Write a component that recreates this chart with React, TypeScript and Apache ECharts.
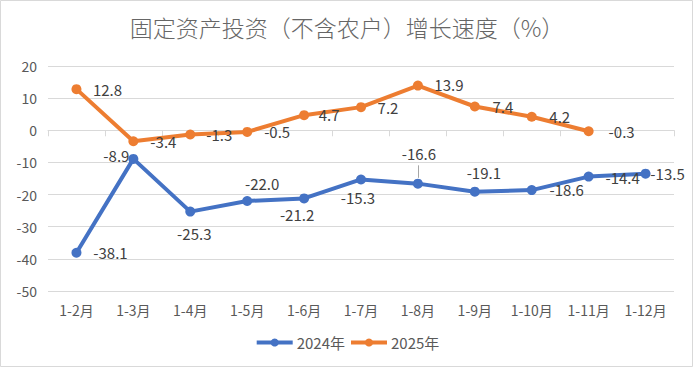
import React, { useEffect, useRef } from "react";
import * as echarts from "echarts";

const categories = ["1-2月", "1-3月", "1-4月", "1-5月", "1-6月", "1-7月", "1-8月", "1-9月", "1-10月", "1-11月", "1-12月"];
const values2024 = [-38.1, -8.9, -25.3, -22.0, -21.2, -15.3, -16.6, -19.1, -18.6, -14.4, -13.5];
const values2025: (number | null)[] = [12.8, -3.4, -1.3, -0.5, 4.7, 7.2, 13.9, 7.4, 4.2, -0.3, null];
const seriesNames = ["2024年", "2025年"];
const titleText = "固定资产投资（不含农户）增长速度（%）";

// label offsets (layout only)
const offsets2024 = [[34, 0], [-17, -3], [4, 22], [15, -18], [-7, 16], [-3, 18], [1, -30], [9, -19], [35, -1], [34, 1], [22, 0]];
const offsets2025 = [[31, 0], [30, 0], [29, 0], [30, 0], [25, -1], [27, 0], [31, -1], [28, 0], [28, 0], [33, 0], [0, 0]];

const FONT = "'Noto Sans CJK SC', 'Noto Sans', sans-serif";

function buildData(vals: (number | null)[], offs: number[][]) {
  return vals.map((v, i) => ({
    value: v,
    label: { offset: offs[i] },
  }));
}

export default function App() {
  const ref = useRef<HTMLDivElement>(null);
  useEffect(() => {
    if (!ref.current) return;
    const chart = echarts.init(ref.current, undefined, { renderer: "svg" });
    const labelCommon = {
      show: true,
      position: "inside" as const,
      align: "center" as const,
      verticalAlign: "middle" as const,
      color: "#404040",
      fontSize: 15,
      fontFamily: FONT,
      formatter: (p: any) => (p.value == null ? "" : Number(p.value).toFixed(1)),
    };
    chart.setOption({
      animation: false,
      backgroundColor: "#ffffff",
      title: {
        text: titleText,
        left: "center",
        top: 10,
        textStyle: { fontSize: 23, fontWeight: 300, color: "#666666", fontFamily: FONT },
      },
      graphic: [
        {
          type: "rect",
          shape: { x: 0.5, y: 0.5, width: 692, height: 366 },
          style: { fill: "none", stroke: "#d9d9d9", lineWidth: 1 },
          silent: true,
        },
      ],
      legend: {
        data: seriesNames,
        top: 330,
        left: "center",
        itemWidth: 36,
        itemHeight: 10,
        itemGap: 4,
        lineStyle: { width: 4 },
        textStyle: { fontSize: 15, color: "#595959", fontFamily: FONT, padding: [0, 0, 0, -1] },
      },
      grid: { left: 48, right: 20, top: 66, bottom: 77, containLabel: false },
      xAxis: [
        {
          type: "category",
          data: categories,
          boundaryGap: true,
          axisLine: { onZero: true, lineStyle: { color: "#d9d9d9", width: 1 } },
          axisTick: { show: true, length: 6, lineStyle: { color: "#d9d9d9" } },
          axisLabel: { show: false },
          splitLine: { show: false },
        },
        {
          type: "category",
          data: categories,
          position: "bottom",
          boundaryGap: true,
          axisLine: { show: false, onZero: false },
          axisTick: { show: false },
          axisLabel: { show: true, margin: 12, fontSize: 14, color: "#595959", fontFamily: FONT },
          splitLine: { show: false },
        },
      ],
      yAxis: {
        type: "value",
        min: -50,
        max: 20,
        interval: 10,
        axisLine: { show: false },
        axisTick: { show: false },
        axisLabel: { fontSize: 14, color: "#595959", margin: 11, fontFamily: FONT },
        splitLine: { lineStyle: { color: "#d9d9d9", width: 1 } },
      },
      series: [
        {
          name: seriesNames[0],
          type: "line",
          xAxisIndex: 0,
          data: buildData(values2024, offsets2024),
          color: "#4472C4",
          lineStyle: { width: 4, color: "#4472C4" },
          symbol: "circle",
          symbolSize: 10,
          itemStyle: { color: "#4472C4" },
          label: labelCommon,
          z: 3,
          markLine: {
            silent: true,
            symbol: "none",
            label: { show: false },
            lineStyle: { color: "#a6a6a6", width: 1, type: "solid" },
            data: [[{ coord: [categories[6], -10.9] }, { coord: [categories[6], -14.8] }]],
          },
        },
        {
          name: seriesNames[1],
          type: "line",
          xAxisIndex: 0,
          data: buildData(values2025, offsets2025),
          color: "#ED7D31",
          lineStyle: { width: 4, color: "#ED7D31" },
          symbol: "circle",
          symbolSize: 10,
          itemStyle: { color: "#ED7D31" },
          label: labelCommon,
          z: 4,
        },
      ],
    });
    return () => chart.dispose();
  }, []);
  return (
    <div
      ref={ref}
      style={{ position: "fixed", left: 0, top: 0, width: 694, height: 368 }}
    />
  );
}
